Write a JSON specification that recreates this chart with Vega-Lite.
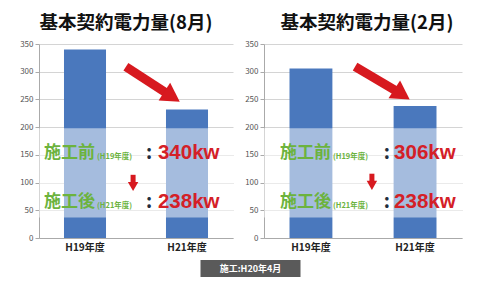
{
  "$schema": "https://vega.github.io/schema/vega-lite/v6.json",
  "background": "white",
  "padding": {"left": 19, "top": 13, "right": 12, "bottom": 6},
  "config": {
    "font": "Noto Sans CJK JP",
    "view": {"stroke": null},
    "title": {"fontSize": 18.5, "fontWeight": "bold", "color": "#111", "offset": 8, "anchor": "middle", "font": "Noto Sans CJK JP"},
    "axisY": {"values": [0, 50, 100, 150, 200, 250, 300, 350], "title": null, "labelFontSize": 8, "labelColor": "#555", "gridColor": "#d4d4d4", "domainColor": "#aaa", "tickColor": "#aaa", "tickSize": 4, "labelPadding": 2},
    "axisX": {"title": null, "labelFontSize": 10, "labelFontWeight": "bold", "labelColor": "#222", "ticks": false, "domainColor": "#aaa", "labelPadding": 4, "labelAngle": 0}
  },
  "spacing": 8,
  "center": true,
  "vconcat": [
    {
      "spacing": 11,
      "hconcat": [
        {
          "width": 194,
          "height": 194,
          "title": {"text": "基本契約電力量(8月)", "dx": -10},
          "resolve": {"scale": {"x": "independent"}},
          "layer": [
            {
              "data": {"values": [{"year": "H19年度", "kw": 340}, {"year": "H21年度", "kw": 232}]},
              "mark": {"type": "bar", "color": "#4a78bd"},
              "encoding": {
                "x": {"field": "year", "type": "nominal", "sort": null, "scale": {"paddingInner": 0.588, "paddingOuter": 0.245}},
                "y": {"field": "kw", "type": "quantitative", "scale": {"domain": [0, 350]}}
              }
            },
            {
              "data": {"values": [{"lo": 37, "hi": 198}]},
              "mark": {"type": "rect", "fill": "white", "opacity": 0.5},
              "encoding": {"y": {"field": "lo", "type": "quantitative"}, "y2": {"field": "hi"}}
            },
            {
              "data": {"values": [{"x": 0.448, "y": 309, "x2": 0.686, "y2": 255}]},
              "mark": {"type": "rule", "color": "#d7191f", "strokeWidth": 9},
              "encoding": {
                "x": {"field": "x", "type": "quantitative", "scale": {"domain": [0, 1]}, "axis": null},
                "x2": {"field": "x2"},
                "y": {"field": "y", "type": "quantitative"},
                "y2": {"field": "y2"}
              }
            },
            {
              "data": {"values": [{"x": 0.686, "y": 255}]},
              "mark": {"type": "point", "shape": "triangle-right", "filled": true, "color": "#d7191f", "opacity": 1, "size": 450, "angle": 33},
              "encoding": {
                "x": {"field": "x", "type": "quantitative", "scale": {"domain": [0, 1]}, "axis": null},
                "y": {"field": "y", "type": "quantitative"}
              }
            },
            {
              "data": {"values": [{"x": 0.485, "y": 114, "y2": 97}]},
              "mark": {"type": "rule", "color": "#d7191f", "strokeWidth": 5},
              "encoding": {
                "x": {"field": "x", "type": "quantitative", "scale": {"domain": [0, 1]}, "axis": null},
                "y": {"field": "y", "type": "quantitative"},
                "y2": {"field": "y2"}
              }
            },
            {
              "data": {"values": [{"x": 0.485, "y": 93}]},
              "mark": {"type": "point", "shape": "triangle-down", "filled": true, "color": "#d7191f", "opacity": 1, "size": 110},
              "encoding": {
                "x": {"field": "x", "type": "quantitative", "scale": {"domain": [0, 1]}, "axis": null},
                "y": {"field": "y", "type": "quantitative"}
              }
            },
            {
              "data": {"values": [{"t": "施工前", "x": 0.026, "y": 153}, {"t": "施工後", "x": 0.026, "y": 65}]},
              "mark": {"type": "text", "align": "left", "baseline": "middle", "fontSize": 17, "fontWeight": "bold", "color": "#6cb33e"},
              "encoding": {
                "x": {"field": "x", "type": "quantitative", "scale": {"domain": [0, 1]}, "axis": null},
                "y": {"field": "y", "type": "quantitative"},
                "text": {"field": "t"}
              }
            },
            {
              "data": {"values": [{"t": "(H19年度)", "x": 0.299, "y": 146}, {"t": "(H21年度)", "x": 0.299, "y": 58}]},
              "mark": {"type": "text", "align": "left", "baseline": "middle", "fontSize": 7.5, "fontWeight": "bold", "color": "#6cb33e"},
              "encoding": {
                "x": {"field": "x", "type": "quantitative", "scale": {"domain": [0, 1]}, "axis": null},
                "y": {"field": "y", "type": "quantitative"},
                "text": {"field": "t"}
              }
            },
            {
              "data": {"values": [{"t": ":", "x": 0.567, "y": 153}, {"t": ":", "x": 0.567, "y": 65}]},
              "mark": {"type": "text", "align": "center", "baseline": "middle", "fontSize": 19, "fontWeight": "bold", "color": "#1f2d3d"},
              "encoding": {
                "x": {"field": "x", "type": "quantitative", "scale": {"domain": [0, 1]}, "axis": null},
                "y": {"field": "y", "type": "quantitative"},
                "text": {"field": "t"}
              }
            },
            {
              "data": {"values": [{"t": "340kw", "x": 0.613, "y": 153}, {"t": "238kw", "x": 0.613, "y": 65}]},
              "mark": {"type": "text", "align": "left", "baseline": "middle", "fontSize": 20.5, "fontWeight": "bold", "color": "#d42027", "font": "Liberation Sans"},
              "encoding": {
                "x": {"field": "x", "type": "quantitative", "scale": {"domain": [0, 1]}, "axis": null},
                "y": {"field": "y", "type": "quantitative"},
                "text": {"field": "t"}
              }
            }
          ]
        },
        {
          "width": 198,
          "height": 194,
          "title": {"text": "基本契約電力量(2月)", "dx": 4},
          "resolve": {"scale": {"x": "independent"}},
          "layer": [
            {
              "data": {"values": [{"year": "H19年度", "kw": 306}, {"year": "H21年度", "kw": 238}]},
              "mark": {"type": "bar", "color": "#4a78bd"},
              "encoding": {
                "x": {"field": "year", "type": "nominal", "sort": null, "scale": {"paddingInner": 0.588, "paddingOuter": 0.245}},
                "y": {"field": "kw", "type": "quantitative", "scale": {"domain": [0, 350]}}
              }
            },
            {
              "data": {"values": [{"lo": 37, "hi": 198}]},
              "mark": {"type": "rect", "fill": "white", "opacity": 0.5},
              "encoding": {"y": {"field": "lo", "type": "quantitative"}, "y2": {"field": "hi"}}
            },
            {
              "data": {"values": [{"x": 0.46, "y": 309, "x2": 0.697, "y2": 259}]},
              "mark": {"type": "rule", "color": "#d7191f", "strokeWidth": 9},
              "encoding": {
                "x": {"field": "x", "type": "quantitative", "scale": {"domain": [0, 1]}, "axis": null},
                "x2": {"field": "x2"},
                "y": {"field": "y", "type": "quantitative"},
                "y2": {"field": "y2"}
              }
            },
            {
              "data": {"values": [{"x": 0.697, "y": 259}]},
              "mark": {"type": "point", "shape": "triangle-right", "filled": true, "color": "#d7191f", "opacity": 1, "size": 450, "angle": 33},
              "encoding": {
                "x": {"field": "x", "type": "quantitative", "scale": {"domain": [0, 1]}, "axis": null},
                "y": {"field": "y", "type": "quantitative"}
              }
            },
            {
              "data": {"values": [{"x": 0.545, "y": 116, "y2": 99}]},
              "mark": {"type": "rule", "color": "#d7191f", "strokeWidth": 5},
              "encoding": {
                "x": {"field": "x", "type": "quantitative", "scale": {"domain": [0, 1]}, "axis": null},
                "y": {"field": "y", "type": "quantitative"},
                "y2": {"field": "y2"}
              }
            },
            {
              "data": {"values": [{"x": 0.545, "y": 95}]},
              "mark": {"type": "point", "shape": "triangle-down", "filled": true, "color": "#d7191f", "opacity": 1, "size": 110},
              "encoding": {
                "x": {"field": "x", "type": "quantitative", "scale": {"domain": [0, 1]}, "axis": null},
                "y": {"field": "y", "type": "quantitative"}
              }
            },
            {
              "data": {"values": [{"t": "施工前", "x": 0.081, "y": 153}, {"t": "施工後", "x": 0.081, "y": 65}]},
              "mark": {"type": "text", "align": "left", "baseline": "middle", "fontSize": 17, "fontWeight": "bold", "color": "#6cb33e"},
              "encoding": {
                "x": {"field": "x", "type": "quantitative", "scale": {"domain": [0, 1]}, "axis": null},
                "y": {"field": "y", "type": "quantitative"},
                "text": {"field": "t"}
              }
            },
            {
              "data": {"values": [{"t": "(H19年度)", "x": 0.348, "y": 146}, {"t": "(H21年度)", "x": 0.348, "y": 58}]},
              "mark": {"type": "text", "align": "left", "baseline": "middle", "fontSize": 7.5, "fontWeight": "bold", "color": "#6cb33e"},
              "encoding": {
                "x": {"field": "x", "type": "quantitative", "scale": {"domain": [0, 1]}, "axis": null},
                "y": {"field": "y", "type": "quantitative"},
                "text": {"field": "t"}
              }
            },
            {
              "data": {"values": [{"t": ":", "x": 0.621, "y": 153}, {"t": ":", "x": 0.621, "y": 65}]},
              "mark": {"type": "text", "align": "center", "baseline": "middle", "fontSize": 19, "fontWeight": "bold", "color": "#1f2d3d"},
              "encoding": {
                "x": {"field": "x", "type": "quantitative", "scale": {"domain": [0, 1]}, "axis": null},
                "y": {"field": "y", "type": "quantitative"},
                "text": {"field": "t"}
              }
            },
            {
              "data": {"values": [{"t": "306kw", "x": 0.657, "y": 153}, {"t": "238kw", "x": 0.657, "y": 65}]},
              "mark": {"type": "text", "align": "left", "baseline": "middle", "fontSize": 20.5, "fontWeight": "bold", "color": "#d42027", "font": "Liberation Sans"},
              "encoding": {
                "x": {"field": "x", "type": "quantitative", "scale": {"domain": [0, 1]}, "axis": null},
                "y": {"field": "y", "type": "quantitative"},
                "text": {"field": "t"}
              }
            }
          ]
        }
      ]
    },
    {
      "width": 100,
      "height": 17,
      "view": {"fill": "#5a5a5a", "stroke": null},
      "data": {"values": [{"t": "施工:H20年4月"}]},
      "mark": {"type": "text", "align": "center", "baseline": "middle", "fontSize": 9, "fontWeight": "bold", "color": "white"},
      "encoding": {"text": {"field": "t"}}
    }
  ]
}
